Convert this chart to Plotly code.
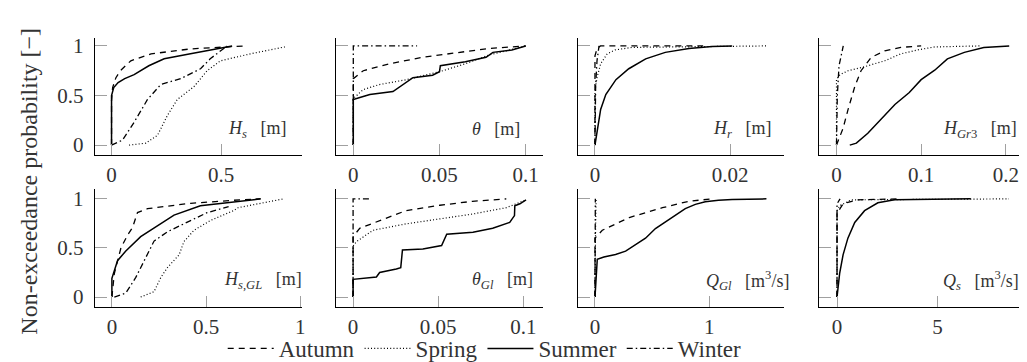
import plotly.graph_objects as go

W, H = 1027, 362

# ---------------- data ----------------
# Panel 1: H_s [m]
hs_autumn_x = [0, 0, 0.005, 0.02, 0.04, 0.088, 0.18, 0.36, 0.61]
hs_autumn_y = [0, 0.45, 0.58, 0.68, 0.75, 0.85, 0.92, 0.97, 1.0]
hs_spring_x = [0.08, 0.157, 0.21, 0.255, 0.3, 0.376, 0.436, 0.497, 0.633, 0.79]
hs_spring_y = [0, 0.02, 0.1, 0.3, 0.46, 0.59, 0.75, 0.85, 0.92, 0.99]
hs_summer_x = [0, 0, 0.01, 0.03, 0.06, 0.103, 0.17, 0.24, 0.36, 0.49, 0.55]
hs_summer_y = [0, 0.5, 0.58, 0.63, 0.67, 0.71, 0.80, 0.87, 0.92, 0.97, 1.0]
hs_winter_x = [0, 0.05, 0.103, 0.164, 0.224, 0.315, 0.406, 0.45, 0.527]
hs_winter_y = [0, 0.05, 0.23, 0.46, 0.61, 0.67, 0.77, 0.87, 1.0]

# Panel 2: theta [m]
th_autumn_x = [0, 0, 0.0058, 0.021, 0.040, 0.06, 0.079, 0.1]
th_autumn_y = [0, 0.67, 0.75, 0.82, 0.885, 0.935, 0.975, 1.0]
th_spring_x = [0, 0, 0.0058, 0.015, 0.031, 0.05, 0.065, 0.079, 0.1]
th_spring_y = [0, 0.47, 0.56, 0.61, 0.66, 0.74, 0.82, 0.91, 1.0]
th_summer_x = [0, 0, 0.0038, 0.0096, 0.023, 0.027, 0.031, 0.0346, 0.046, 0.05,
               0.0505, 0.065, 0.077, 0.081, 0.092, 0.1]
th_summer_y = [0, 0.46, 0.48, 0.51, 0.54, 0.59, 0.64, 0.68, 0.705, 0.74,
               0.80, 0.84, 0.885, 0.935, 0.96, 1.0]
th_winter_x = [0, 0, 0.037]
th_winter_y = [0, 1.0, 1.0]

# Panel 3: H_r [m]
hr_autumn_x = [0, 0, 0.0003, 0.0008, 0.016]
hr_autumn_y = [0, 0.9, 0.97, 1.0, 1.0]
hr_spring_x = [0, 0, 0.0003, 0.00084, 0.0018, 0.003, 0.0055, 0.0254]
hr_spring_y = [0, 0.55, 0.68, 0.82, 0.92, 0.96, 0.985, 1.0]
hr_summer_x = [0, 0.00035, 0.00084, 0.0016, 0.0031, 0.005, 0.0075, 0.0104,
               0.0139, 0.0173, 0.0203]
hr_summer_y = [0, 0.17, 0.36, 0.51, 0.66, 0.77, 0.87, 0.935, 0.975, 0.995, 1.0]
hr_winter_x = [0, 0.0001, 0.0003, 0.0006]
hr_winter_y = [0, 0.6, 0.85, 1.0]

# Panel 4: H_Gr3 [m]
gr_autumn_x = [0, 0.0078, 0.0137, 0.0216, 0.029, 0.041, 0.057, 0.076, 0.1]
gr_autumn_y = [0, 0.17, 0.36, 0.59, 0.75, 0.885, 0.95, 0.985, 1.0]
gr_spring_x = [0, 0, 0.004, 0.0137, 0.033, 0.057, 0.076, 0.096, 0.116, 0.17]
gr_spring_y = [0, 0.66, 0.71, 0.75, 0.79, 0.85, 0.92, 0.96, 0.99, 1.0]
gr_summer_x = [0.0157, 0.0235, 0.037, 0.053, 0.069, 0.086, 0.1, 0.116, 0.131,
               0.151, 0.174, 0.204]
gr_summer_y = [0, 0.02, 0.12, 0.265, 0.41, 0.53, 0.66, 0.755, 0.87, 0.935,
               0.985, 1.0]
gr_winter_x = [0, 0.001, 0.003, 0.008]
gr_winter_y = [0, 0.5, 0.8, 1.0]

# Panel 5: H_s,GL [m]
sg_autumn_x = [0, 0.005, 0.013, 0.048, 0.083, 0.11, 0.136, 0.189, 0.418, 0.68, 0.79]
sg_autumn_y = [0, 0.1, 0.24, 0.5, 0.63, 0.71, 0.86, 0.9, 0.955, 0.99, 1.0]
sg_spring_x = [0.153, 0.224, 0.26, 0.295, 0.357, 0.383, 0.436, 0.524, 0.647,
               0.67, 0.912]
sg_spring_y = [0, 0.055, 0.2, 0.3, 0.43, 0.565, 0.68, 0.78, 0.88, 0.91, 1.0]
sg_summer_x = [0, 0, 0.03, 0.074, 0.153, 0.242, 0.33, 0.47, 0.79]
sg_summer_y = [0, 0.19, 0.37, 0.47, 0.615, 0.73, 0.835, 0.93, 1.0]
sg_winter_x = [0.013, 0.074, 0.127, 0.171, 0.224, 0.295, 0.4, 0.506, 0.62]
sg_winter_y = [0, 0.04, 0.2, 0.37, 0.57, 0.665, 0.76, 0.86, 0.92]

# Panel 6: theta_Gl [m]
tg_autumn_x = [0, 0, 0.0039, 0.0156, 0.031, 0.051, 0.07, 0.09]
tg_autumn_y = [0, 0.615, 0.70, 0.78, 0.88, 0.935, 0.975, 1.0]
tg_spring_x = [0, 0, 0.002, 0.0117, 0.031, 0.051, 0.07, 0.09, 0.098, 0.1016]
tg_spring_y = [0, 0.52, 0.565, 0.68, 0.745, 0.795, 0.845, 0.91, 0.96, 0.99]
tg_summer_x = [0, 0, 0.0137, 0.0156, 0.0254, 0.028, 0.029, 0.041, 0.052, 0.055,
               0.0704, 0.082, 0.092, 0.0948, 0.095, 0.098, 0.1016]
tg_summer_y = [0, 0.18, 0.205, 0.25, 0.285, 0.30, 0.48, 0.49, 0.525, 0.64,
               0.66, 0.70, 0.76, 0.83, 0.93, 0.95, 0.99]
tg_winter_x = [0, 0, 0.0097]
tg_winter_y = [0, 1.0, 1.0]

# Panel 7: Q_Gl [m3/s]
qg_autumn_x = [0, 0, 0.064, 0.3, 0.59, 0.82, 1.02]
qg_autumn_y = [0, 0.6, 0.68, 0.81, 0.91, 0.975, 1.0]
qg_spring_x = [0, 0, 0.005, 0.01]
qg_spring_y = [0, 0.6, 0.7, 1.0]
qg_summer_x = [0, 0.01, 0.02, 0.078, 0.18, 0.268, 0.355, 0.442, 0.529, 0.616,
               0.704, 0.79, 0.878, 0.965, 1.08, 1.2, 1.5]
qg_summer_y = [0, 0.25, 0.385, 0.408, 0.434, 0.467, 0.533, 0.599, 0.698, 0.763,
               0.829, 0.901, 0.944, 0.97, 0.987, 0.994, 1.0]
qg_winter_x = [0, 0, 0.003]
qg_winter_y = [0, 0.95, 1.0]

# Panel 8: Q_s [m3/s]
qs_autumn_x = [0, 0, 0.3, 1.0, 3.0]
qs_autumn_y = [0, 0.85, 0.95, 0.99, 1.0]
qs_spring_x = [0, 0, 0.13, 0.71, 8.55]
qs_spring_y = [0, 0.88, 0.93, 0.99, 1.0]
qs_summer_x = [0, 0.13, 0.3, 0.54, 0.88, 1.37, 2.03, 2.86, 6.65]
qs_summer_y = [0, 0.24, 0.43, 0.6, 0.76, 0.88, 0.96, 0.99, 1.0]
qs_winter_x = [0, 0, 0.15]
qs_winter_y = [0, 0.95, 1.0]

seasons = ["Autumn", "Spring", "Summer", "Winter"]

panel_data = [
    [(hs_autumn_x, hs_autumn_y), (hs_spring_x, hs_spring_y), (hs_summer_x, hs_summer_y), (hs_winter_x, hs_winter_y)],
    [(th_autumn_x, th_autumn_y), (th_spring_x, th_spring_y), (th_summer_x, th_summer_y), (th_winter_x, th_winter_y)],
    [(hr_autumn_x, hr_autumn_y), (hr_spring_x, hr_spring_y), (hr_summer_x, hr_summer_y), (hr_winter_x, hr_winter_y)],
    [(gr_autumn_x, gr_autumn_y), (gr_spring_x, gr_spring_y), (gr_summer_x, gr_summer_y), (gr_winter_x, gr_winter_y)],
    [(sg_autumn_x, sg_autumn_y), (sg_spring_x, sg_spring_y), (sg_summer_x, sg_summer_y), (sg_winter_x, sg_winter_y)],
    [(tg_autumn_x, tg_autumn_y), (tg_spring_x, tg_spring_y), (tg_summer_x, tg_summer_y), (tg_winter_x, tg_winter_y)],
    [(qg_autumn_x, qg_autumn_y), (qg_spring_x, qg_spring_y), (qg_summer_x, qg_summer_y), (qg_winter_x, qg_winter_y)],
    [(qs_autumn_x, qs_autumn_y), (qs_spring_x, qs_spring_y), (qs_summer_x, qs_summer_y), (qs_winter_x, qs_winter_y)],
]

x_tickvals = [[0, 0.5], [0, 0.05, 0.1], [0, 0.02], [0, 0.1, 0.2],
              [0, 0.5, 1], [0, 0.05, 0.1], [0, 1], [0, 5]]
x_ticktext = [["0", "0.5"], ["0", "0.05", "0.1"], ["0", "0.02"], ["0", "0.1", "0.2"],
              ["0", "0.5", "1"], ["0", "0.05", "0.1"], ["0", "1"], ["0", "5"]]
x_ranges = [[-0.077, 0.868], [-0.0102, 0.11], [-0.0025, 0.028], [-0.0205, 0.2235],
            [-0.0915, 1.009], [-0.0102, 0.1115], [-0.148, 1.656], [-0.89, 9.38]]
SP = "\u2002 "
panel_labels = [
    "<i>H</i><sub><i>s</i></sub>" + SP + "[m]",
    "<i>θ</i>" + SP + "[m]",
    "<i>H</i><sub><i>r</i></sub>" + SP + "[m]",
    "<i>H</i><sub><i>Gr</i>3</sub>" + SP + "[m]",
    "<i>H</i><sub><i>s</i>,<i>GL</i></sub>" + SP + "[m]",
    "<i>θ</i><sub><i>Gl</i></sub>" + SP + "[m]",
    "<i>Q</i><sub><i>Gl</i></sub>" + SP + "[m<sup>3</sup>/s]",
    "<i>Q</i><sub><i>s</i></sub>" + SP + "[m<sup>3</sup>/s]",
]
y_tickvals = [0, 0.5, 1]
y_ticktext = ["0", "0.5", "1"]

# ---------------- styling / layout ----------------
FONT = "Liberation Serif, Tinos, DejaVu Serif, serif"
TXT = "#333333"
TICKC = "#a0a0a0"
dashes = {"Autumn": "6px,5px", "Spring": "1px,2.2px", "Summer": "solid",
          "Winter": "6px,3px,1.5px,3px"}
widths = {"Autumn": 1.3, "Spring": 1.2, "Summer": 1.5, "Winter": 1.3}

col_px = [(87, 295), (329, 537), (572.3, 779.3), (814.3, 1021.7)]
row_px = [(26.7, 147.3), (182.7, 304.3)]
y_ranges = [[-0.098, 1.081], [-0.102, 1.099]]
label_pos = [(281, 121), (516, 121), (768, 121), (1015, 121),
             (297, 277), (529, 277), (786, 277), (1017, 277)]

fig = go.Figure()
layout = dict(
    width=W, height=H, margin=dict(l=0, r=0, t=0, b=0),
    paper_bgcolor="white", plot_bgcolor="white",
    font=dict(family=FONT, size=21, color=TXT),
    showlegend=True,
    legend=dict(orientation="h", x=0.466, xanchor="center", y=1 - 347 / H,
                yanchor="middle", font=dict(family=FONT, size=23, color=TXT),
                bgcolor="rgba(0,0,0,0)", itemwidth=46, tracegroupgap=0),
)
annotations = []

for i in range(8):
    r, c = divmod(i, 4)
    xa = "xaxis" if i == 0 else f"xaxis{i + 1}"
    ya = "yaxis" if i == 0 else f"yaxis{i + 1}"
    xref = "x" if i == 0 else f"x{i + 1}"
    yref = "y" if i == 0 else f"y{i + 1}"
    x0, x1 = col_px[c]
    t0, t1 = row_px[r]
    layout[xa] = dict(
        domain=[x0 / W, x1 / W], anchor=yref, range=x_ranges[i],
        showline=True, linecolor="black", linewidth=1, showgrid=False,
        zeroline=False, ticks="inside", ticklen=3, tickwidth=1,
        tickcolor=TICKC, tickvals=x_tickvals[i], ticktext=x_ticktext[i],
        minor=dict(ticks="inside", ticklen=11, tickwidth=1, tickcolor=TICKC,
                   tickmode="array", tickvals=x_tickvals[i], showgrid=False),
        tickfont=dict(family=FONT, size=21, color=TXT), ticklabelstandoff=1,
    )
    layout[ya] = dict(
        domain=[1 - t1 / H, 1 - t0 / H], anchor=xref, range=y_ranges[r],
        showline=True, linecolor="black", linewidth=1, showgrid=False,
        zeroline=False, ticks="inside", ticklen=6, tickwidth=1,
        tickcolor=TICKC, tickvals=y_tickvals, ticktext=y_ticktext,
        minor=dict(ticks="inside", ticklen=12, tickwidth=1, tickcolor=TICKC,
                   tickmode="array", tickvals=y_tickvals, showgrid=False),
        showticklabels=(c == 0),
        tickfont=dict(family=FONT, size=21, color=TXT), ticklabelstandoff=6,
    )
    for s_idx, season in enumerate(seasons):
        xs, ys = panel_data[i][s_idx]
        fig.add_trace(go.Scatter(
            x=xs, y=ys, mode="lines", name=season, legendgroup=season,
            showlegend=(i == 0), xaxis=xref, yaxis=yref,
            line=dict(color="black", width=widths[season], dash=dashes[season]),
            hoverinfo="skip",
        ))
    lx, ly = label_pos[i]
    annotations.append(dict(
        text=panel_labels[i], x=lx / W, y=1 - ly / H, xref="paper", yref="paper",
        xanchor="right", yanchor="middle", showarrow=False,
        font=dict(family=FONT, size=18, color=TXT),
    ))

annotations.append(dict(
    text="Non-exceedance probability [−]", x=21 / W, y=1 - 174 / H,
    xref="paper", yref="paper", xanchor="center", yanchor="middle",
    textangle=-90, showarrow=False, font=dict(family=FONT, size=24, color=TXT),
))
layout["annotations"] = annotations
fig.update_layout(**layout)

fig.write_html("out.html")
